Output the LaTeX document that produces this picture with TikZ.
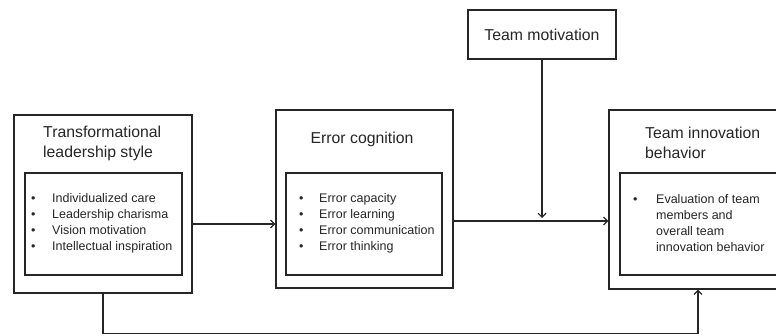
\documentclass[tikz,border=0pt]{standalone}
\usepackage{fontspec}
\setmainfont{Liberation Sans}
\usepackage{tikz}
\usetikzlibrary{arrows.meta, calc}

\newcommand{\headfont}{\fontsize{15.8}{20}\selectfont}
\newcommand{\itemfont}{\fontsize{12.5}{16}\selectfont}

\begin{document}
\begin{tikzpicture}[
    x=1pt, y=-1pt,
    every node/.style={inner sep=0pt, font=\itemfont, text=black!85},
    box/.style={draw=black!85, line width=1.2pt, fill=white},
    heading/.style={font=\headfont, align=left},
    itemlist/.style={anchor=west, align=left},
    link/.style={draw=black!85, line width=1.2pt},
    >={Straight Barb[length=4pt, width=8pt]}
  ]
  \clip (0,0) rectangle (776,336);

  % Left block: leadership style
  \node[box, minimum width=178, minimum height=178] (tls) at (103,204) {};
  \node[box, minimum width=157, minimum height=102] (tlsin) at (103.5,224) {};
  \node[heading, anchor=west] (tlst) at (43,143) {Transformational\\leadership style};
  \node[itemlist] (tlsl) at (31,223) {\begin{tabular}{@{}p{21pt}@{}l@{}}
    • & Individualized care\\
    • & Leadership charisma\\
    • & Vision motivation\\
    • & Intellectual inspiration
  \end{tabular}};

  % Middle block: error cognition
  \node[box, minimum width=177, minimum height=178] (ec) at (364.5,199) {};
  \node[box, minimum width=156, minimum height=102] (ecin) at (364,224) {};
  \node[heading] (ect) at (362,139) {Error cognition};
  \node[itemlist] (ecl) at (299,223) {\begin{tabular}{@{}p{20pt}@{}l@{}}
    • & Error capacity\\
    • & Error learning\\
    • & Error communication\\
    • & Error thinking
  \end{tabular}};

  % Right block: innovation behavior (runs past the right edge)
  \node[box, minimum width=178, minimum height=179] (tib) at (698,199.5) {};
  \node[box, minimum width=157, minimum height=102] (tibin) at (698.5,224) {};
  \node[heading, anchor=west] (tibt) at (645,143) {Team innovation\\behavior};
  \node[itemlist] (tibl) at (633,224) {\begin{tabular}{@{}p{23pt}@{}l@{}}
    • & Evaluation of team\\
      & members and\\
      & overall team\\
      & innovation behavior
  \end{tabular}};

  % Moderator on top
  \node[box, minimum width=148, minimum height=49, font=\headfont] (tm) at (542,34.5) {Team motivation};

  % Connectors
  \coordinate (join) at (542,221);
  \draw[link, ->] (tls.east |- tlsin.center) -- (ec.west |- tlsin.center);
  \draw[link, ->] (ec.east |- join) -- (tib.west |- join);
  \draw[link, ->, shorten >=3pt] (tm.south) -- (join);
  \draw[link, ->] (tls.south) -- ++(0,40) -| (tib.south);
\end{tikzpicture}
\end{document}
